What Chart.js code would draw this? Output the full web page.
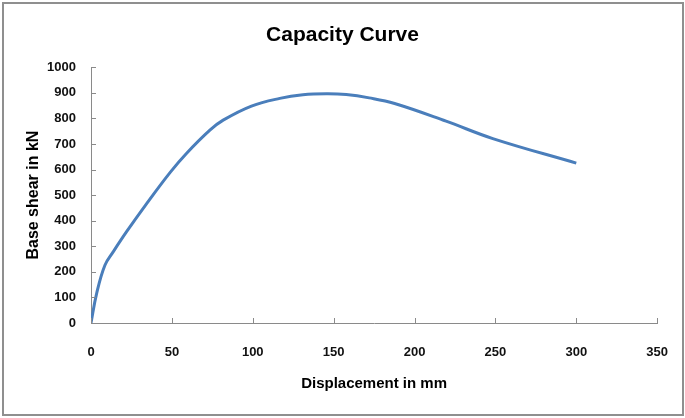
<!DOCTYPE html>
<html>
<head>
<meta charset="utf-8">
<script src="https://cdn.jsdelivr.net/npm/chart.js@4/dist/chart.umd.min.js"></script>
<style>
  body { margin: 0; background: #fff; }
  #wrap { width: 685px; height: 418px; position: relative; }
</style>
</head>
<body>
<div id="wrap"><canvas id="myChart" width="685" height="418"></canvas></div>
<script>
// pushover curve
const displacement = [0, 3.5, 8.6, 13.8, 22, 34.4, 49.2, 59, 73.5, 81.7, 99.2, 116.7, 131, 145.5, 157.8, 172, 187.7, 219.5, 248.4, 300];
const baseShear = [0, 116, 226, 279, 357, 467, 591, 663, 754, 793, 848, 878, 892, 896, 893, 880, 858, 789, 721, 625];

const chartTitle = 'Capacity Curve';
const xTitle = 'Displacement in mm';
const yTitle = 'Base shear in kN';

var points = new Array();
for (let i = 0; i < displacement.length; i++) {
    points.push({x: displacement[i], y: baseShear[i]});
}

const axisGrey = '#8a8a8a';
const fontFam = '"Liberation Sans", Arial, sans-serif';

// frame round the whole chart
const framePlugin = {
    id: 'frame',
    beforeDraw(chart) {
        const c = chart.ctx;
        c.save();
        c.fillStyle = '#fff';
        c.fillRect(0, 0, chart.width, chart.height);
        c.strokeStyle = '#8f8f8f';
        c.lineWidth = 2;
        c.strokeRect(3, 3, chart.width - 5, chart.height - 6);
        c.restore();
    }
};

// small tick marks pointing into the plot, like the spreadsheet chart
const innerTicks = {
    id: 'innerTicks',
    afterDraw(chart) {
        const c = chart.ctx;
        const xs = chart.scales.x, ys = chart.scales.y;
        c.save();
        c.strokeStyle = axisGrey;
        c.lineWidth = 1;
        c.beginPath();
        xs.ticks.forEach(t => {
            const px = Math.round(xs.getPixelForValue(t.value)) + 0.5;
            c.moveTo(px, ys.bottom);
            c.lineTo(px, ys.bottom - 5);
        });
        ys.ticks.forEach(t => {
            const py = Math.round(ys.getPixelForValue(t.value)) + 0.5;
            c.moveTo(xs.left, py);
            c.lineTo(xs.left + 5, py);
        });
        c.stroke();
        c.restore();
    }
};

const myChart = new Chart(document.getElementById('myChart'), {
    type: 'scatter',
    data: {
        datasets: [{
            data: points,
            showLine: true,
            borderColor: '#4a7ebb',
            borderWidth: 3,
            pointRadius: 0,
            tension: 0.4,
            fill: false,
        }]
    },
    plugins: [framePlugin, innerTicks],
    options: {
        responsive: false,
        animation: false,
        layout: { padding: 0 },
        plugins: {
            legend: { display: false },
            tooltip: { enabled: false },
            title: {
                display: true,
                text: chartTitle,
                color: '#000',
                font: { family: fontFam, size: 21, weight: 'bold' },
                padding: { top: 23, bottom: 19 },
            },
        },
        scales: {
            x: {
                type: 'linear',
                min: 0,
                max: 350,
                ticks: {
                    stepSize: 50,
                    color: '#111',
                    padding: 17,
                    font: { family: fontFam, size: 13, weight: 'bold' },
                    callback: (v) => String(v),
                },
                // transparent tick lines just push the labels down
                grid: { display: true, drawOnChartArea: false, drawTicks: true, tickLength: 5, tickColor: 'rgba(0,0,0,0)', color: axisGrey },
                border: { color: axisGrey, width: 1 },
                title: {
                    display: true,
                    text: xTitle,
                    color: '#000',
                    font: { family: fontFam, size: 15, weight: 'bold' },
                    padding: { top: 0, bottom: 25 },
                },
                afterFit: (scale) => { scale.height = 95; },
            },
            y: {
                min: 0,
                max: 1000,
                ticks: {
                    stepSize: 100,
                    color: '#111',
                    padding: 15,
                    font: { family: fontFam, size: 13, weight: 'bold' },
                    callback: (v) => String(v),
                },
                grid: { display: true, drawOnChartArea: false, drawTicks: false, color: axisGrey },
                border: { color: axisGrey, width: 1 },
                title: {
                    display: true,
                    text: yTitle,
                    color: '#000',
                    font: { family: fontFam, size: 16, weight: 'bold' },
                    padding: { top: 24, bottom: 0 },
                },
                afterFit: (scale) => { scale.width = 91; },
            }
        }
    }
});
</script>
</body>
</html>
